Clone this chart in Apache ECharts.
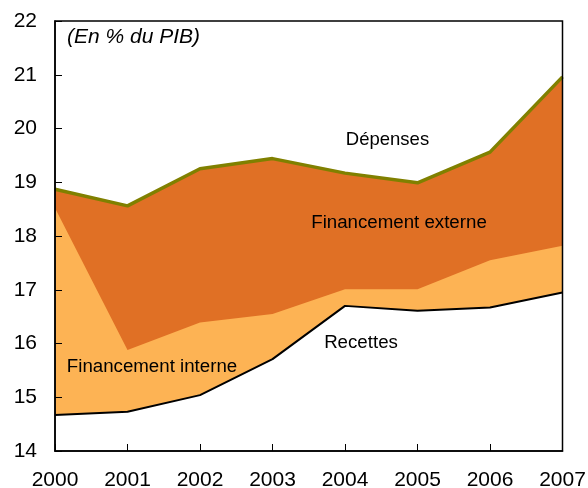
<!DOCTYPE html>
<html>
<head>
<meta charset="utf-8">
<script src="https://cdn.jsdelivr.net/npm/echarts@6/dist/echarts.min.js"></script>
<style>html,body{margin:0;padding:0;background:#fff}#c{width:588px;height:488px}</style>
</head>
<body>
<div id="c"></div>
<script>
var years = ['2000','2001','2002','2003','2004','2005','2006','2007'];
var depenses = [18.87, 18.56, 19.25, 19.44, 19.17, 18.99, 19.56, 20.96];
var financementTop = [18.52, 15.88, 16.39, 16.55, 17.01, 17.01, 17.55, 17.82];
var recettes = [14.67, 14.73, 15.04, 15.71, 16.70, 16.61, 16.67, 16.95];
var yTicks = [14, 15, 16, 17, 18, 19, 20, 21, 22];

var chart = echarts.init(document.getElementById('c'), null, {renderer: 'canvas'});
var FONT = '"Liberation Sans", Arial, sans-serif';
var axisLine = {show: true, onZero: false, lineStyle: {color: '#000', width: 1.5}};
chart.setOption({
  animation: false,
  grid: {left: 55, right: 25.5, top: 21, bottom: 37, show: true, borderColor: '#000', borderWidth: 1.5, z: 10,
         containLabel: false, outerBoundsMode: 'none'},
  xAxis: {
    type: 'category', data: years, boundaryGap: false, z: 10,
    axisLine: axisLine,
    axisTick: {show: true, inside: true, length: 7, alignWithLabel: true, lineStyle: {color: '#000', width: 1}},
    axisLabel: {color: '#000', fontSize: 21, fontFamily: FONT, margin: 19, interval: 0}
  },
  yAxis: {
    type: 'value', min: yTicks[0], max: yTicks[yTicks.length - 1], interval: 1, z: 10,
    axisLine: axisLine,
    axisTick: {show: true, inside: true, length: 7, lineStyle: {color: '#000', width: 1}},
    splitLine: {show: false},
    axisLabel: {color: '#000', fontSize: 21, fontFamily: FONT, margin: 18}
  },
  series: [
    {type: 'line', data: depenses, symbol: 'none', z: 2,
     lineStyle: {color: '#808000', width: 3.5},
     areaStyle: {color: '#E07025', opacity: 1, origin: 'start'}},
    {type: 'line', data: financementTop, symbol: 'none', z: 3,
     lineStyle: {width: 0},
     areaStyle: {color: '#FDB354', opacity: 1, origin: 'start'}},
    {type: 'line', data: recettes, symbol: 'none', z: 4,
     lineStyle: {color: '#000', width: 2},
     areaStyle: {color: '#FFFFFF', opacity: 1, origin: 'start'}}
  ],
  graphic: [
    {type: 'text', left: 67, top: 27, z: 20, style: {text: '(En % du PIB)', font: 'italic 21px ' + FONT, fill: '#000'}},
    {type: 'text', x: 387.5, y: 140, z: 20, style: {text: 'Dépenses', font: '18.5px ' + FONT, fill: '#000', textAlign: 'center', textVerticalAlign: 'middle'}},
    {type: 'text', x: 399, y: 223, z: 20, style: {text: 'Financement externe', font: '18.7px ' + FONT, fill: '#000', textAlign: 'center', textVerticalAlign: 'middle'}},
    {type: 'text', x: 152, y: 366.7, z: 20, style: {text: 'Financement interne', font: '18.7px ' + FONT, fill: '#000', textAlign: 'center', textVerticalAlign: 'middle'}},
    {type: 'text', x: 361, y: 342.5, z: 20, style: {text: 'Recettes', font: '18.7px ' + FONT, fill: '#000', textAlign: 'center', textVerticalAlign: 'middle'}}
  ]
});
</script>
</body>
</html>
